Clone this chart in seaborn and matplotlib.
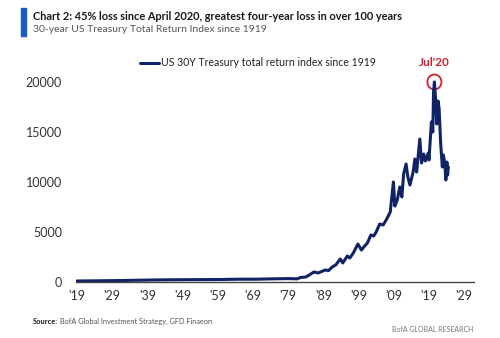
import matplotlib
matplotlib.use("Agg")
import matplotlib.pyplot as plt
import seaborn as sns
import pandas as pd
from matplotlib.patches import Rectangle, Ellipse

# ---- data ----
years = [1919.0, 1925, 1930, 1935, 1940, 1945, 1950, 1955, 1960, 1965, 1970, 1975, 1979,
         1980.5, 1981.5, 1982.5, 1984, 1985, 1986.3, 1987.5, 1988.5, 1989.5, 1990.5, 1991.5,
         1992.5, 1993.8, 1994.5, 1995.8, 1996.5, 1997.5, 1998.8, 1999.8, 2000.5, 2001.5,
         2002.5, 2003.3, 2004, 2005, 2006, 2007, 2008, 2008.9, 2009.3, 2010, 2010.7, 2011.3,
         2011.8, 2012.5, 2013, 2013.6, 2014.5, 2015, 2015.5, 2016.4, 2016.9, 2017.5, 2018,
         2018.8, 2019, 2019.7, 2020.1, 2020.3, 2020.55, 2020.9, 2021.2, 2021.6, 2021.9,
         2022.3, 2022.8, 2023.1, 2023.5, 2023.8, 2024.1, 2024.3, 2024.5]
index_values = [100, 120, 140, 170, 200, 220, 230, 240, 250, 280, 280, 320, 340,
                330, 310, 450, 500, 700, 1000, 900, 1050, 1200, 1150, 1500,
                1700, 2300, 1900, 2600, 2400, 2900, 3800, 3200, 3500, 3900,
                4700, 4600, 5000, 5800, 5700, 6300, 7000, 10000, 7600, 8200, 9500, 8500,
                10800, 11800, 10500, 9700, 11000, 12300, 11000, 14300, 11900, 12800, 12100,
                12900, 12200, 16000, 15000, 19000, 20000, 18200, 15800, 18100, 17300,
                14000, 11500, 12700, 11800, 10200, 12000, 10700, 11500]
xtick_years = [1919, 1929, 1939, 1949, 1959, 1969, 1979, 1989, 1999, 2009, 2019, 2029]
xtick_labels = ["'19", "'29", "'39", "'49", "'59", "'69", "'79", "'89", "'99", "'09", "'19", "'29"]
ytick_values = [0, 5000, 10000, 15000, 20000]
series_name = "US 30Y Treasury total return index since 1919"

df = pd.DataFrame({"year": years, "value": index_values, "series": series_name})

sns.set_style("white")
plt.rcParams['font.family'] = ['Lato', 'DejaVu Sans']

W, H = 500, 338
fig = plt.figure(figsize=(W / 100, H / 100), dpi=100)
navy = "#0f2366"
grey = "#555555"

ax = fig.add_axes([76 / W, 1 - 282 / H, 398 / W, 220 / H])
sns.lineplot(data=df, x="year", y="value", hue="series", palette=[navy], ax=ax,
             linewidth=2.2, legend=True)
ax.set_xlim(1918.7, 2031.8)
ax.set_ylim(0, 22000)
ax.set_xticks(xtick_years)
ax.set_xticklabels(xtick_labels)
ax.set_yticks(ytick_values)
ax.set_yticklabels([str(v) for v in ytick_values])
ax.set_xlabel("")
ax.set_ylabel("")
for s in ["top", "right", "left"]:
    ax.spines[s].set_visible(False)
ax.spines["bottom"].set_color("#444444")
ax.spines["bottom"].set_linewidth(1.0)
ax.tick_params(axis="both", length=0, labelsize=9, colors="#333333")
ax.tick_params(axis="x", pad=6)
ax.tick_params(axis="y", pad=10)

leg = ax.legend(loc="upper left", bbox_to_anchor=(0.15, 1.04), frameon=False,
                fontsize=7.6, handlelength=1.8, handletextpad=0.15, borderaxespad=0)
for t in leg.get_texts():
    t.set_color("#222222")

# peak marker
ax.add_patch(Ellipse((2020.55, 20000), width=4.0, height=1500, fill=False,
                     edgecolor="#d0202e", linewidth=1.3, clip_on=False))
ax.text(2020.55, 21400, "Jul'20", color="#d0202e", fontsize=8.5, fontweight="bold",
        ha="center", va="bottom", clip_on=False)

# header
fig.patches.append(Rectangle((21 / W, 1 - 36 / H), 5 / W, 28 / H, transform=fig.transFigure,
                             color="#1a56c4", zorder=5))
fig.text(33 / W, 1 - 16 / H, "Chart 2: 45% loss since April 2020, greatest four-year loss in over 100 years",
         fontsize=7.9, fontweight="bold", color="#1a1a1a", va="center", ha="left")
fig.text(33 / W, 1 - 30 / H, "30-year US Treasury Total Return Index since 1919",
         fontsize=7.5, color=grey, va="center", ha="left")

# footer
fig.text(33 / W, 1 - 321 / H, "Source:", fontsize=5.4, fontweight="bold", color="#1a1a1a",
         va="center", ha="left")
fig.text(60 / W, 1 - 321 / H, "BofA Global Investment Strategy, GFD Finaeon", fontsize=5.3,
         color=grey, va="center", ha="left")
fig.text(473 / W, 1 - 330 / H, "BofA GLOBAL RESEARCH", fontsize=5.0, color="#777777",
         va="center", ha="right")

fig.savefig("out.png", dpi=100)
